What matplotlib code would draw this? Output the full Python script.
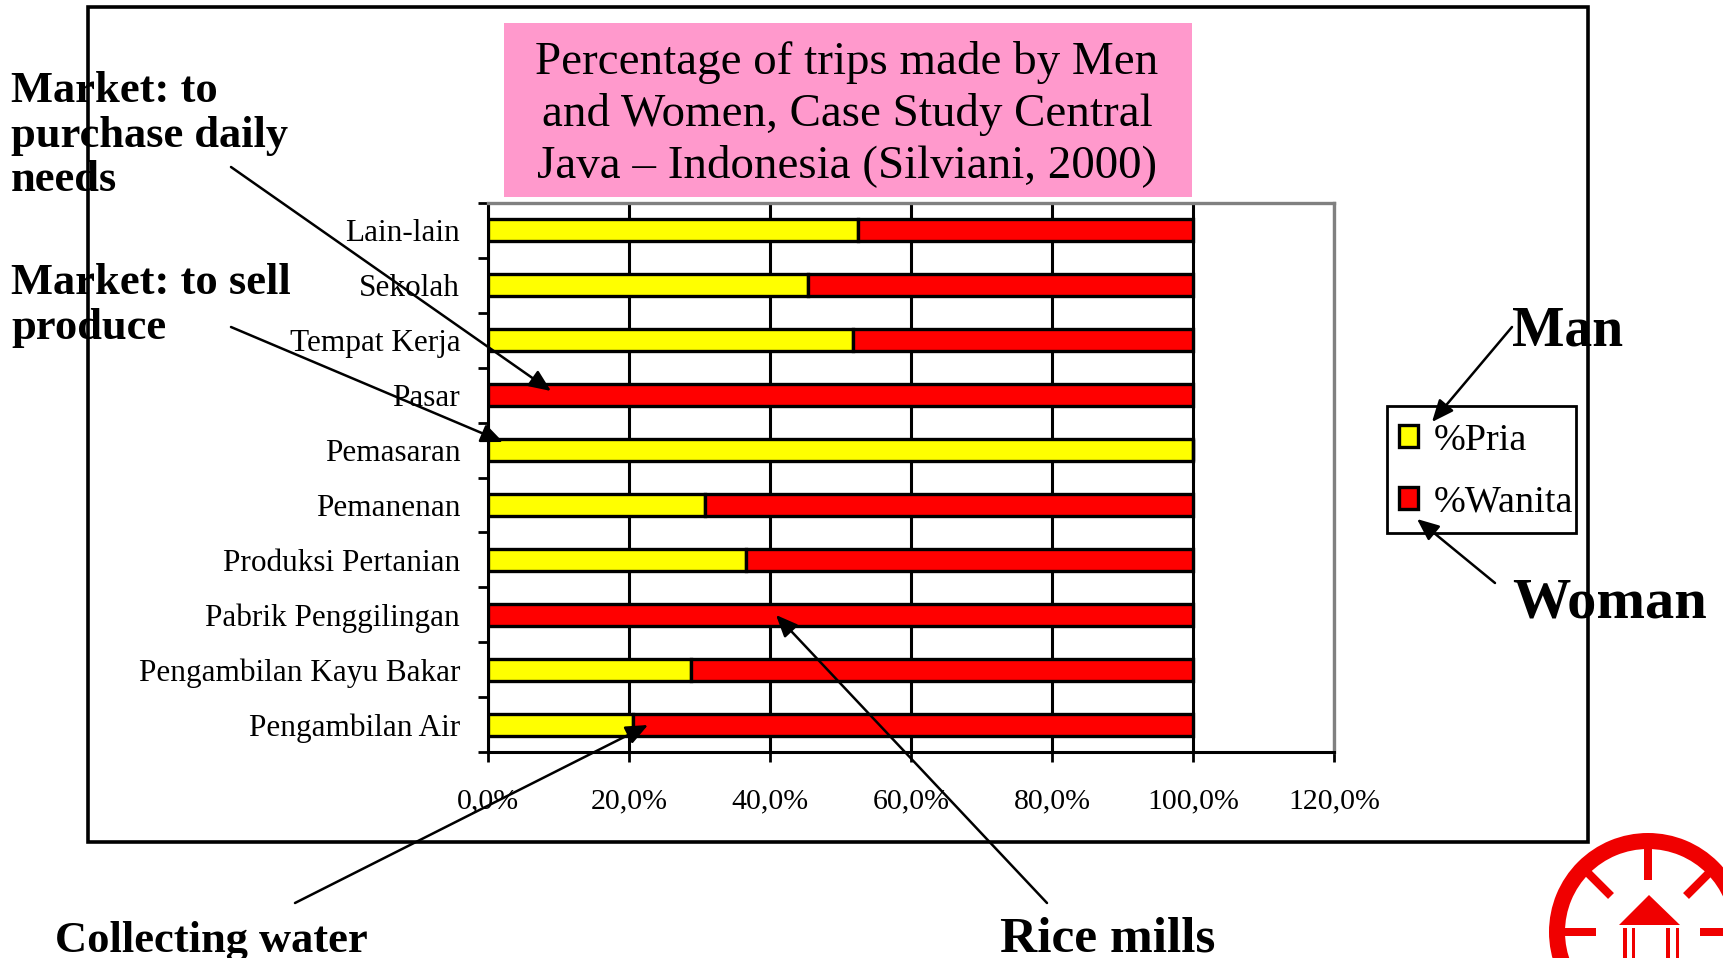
import matplotlib
matplotlib.use("Agg")
import matplotlib.pyplot as plt
import matplotlib.patches as patches
from matplotlib.ticker import FixedLocator

W, H = 1723, 958

categories = ["Pengambilan Air", "Pengambilan Kayu Bakar", "Pabrik Penggilingan",
              "Produksi Pertanian", "Pemanenan", "Pemasaran", "Pasar",
              "Tempat Kerja", "Sekolah", "Lain-lain"]
pria = [20.5, 28.8, 0.0, 36.6, 30.7, 100.0, 0.0, 51.7, 45.3, 52.5]
wanita = [79.5, 71.2, 100.0, 63.4, 69.3, 0.0, 100.0, 48.3, 54.7, 47.5]
x_ticks = [0, 20, 40, 60, 80, 100, 120]
x_labels = ["0,0%", "20,0%", "40,0%", "60,0%", "80,0%", "100,0%", "120,0%"]

plt.rcParams['font.family'] = ['Liberation Serif', 'DejaVu Serif']

fig = plt.figure(figsize=(W / 100, H / 100), dpi=100, facecolor='white')


def px_axes(x0, y0, x1, y1):
    # pixel box, measured from the top left of the image
    return fig.add_axes([x0 / W, 1 - y1 / H, (x1 - x0) / W, (y1 - y0) / H])


# --- chart ---
ax = px_axes(488, 203, 1334.5, 752)
ax.set_zorder(2)
ax.patch.set_alpha(0)
ypos = list(range(len(categories)))
b1 = ax.barh(ypos, pria, height=0.4, color='#ffff00', edgecolor='black', linewidth=2.4, zorder=3, label='%Pria')
b2 = ax.barh(ypos, wanita, left=pria, height=0.4, color='#ff0000', edgecolor='black', linewidth=2.4, zorder=3, label='%Wanita')
ax.set_xlim(0, 120)
ax.set_ylim(-0.5, 9.5)
ax.set_xticks(x_ticks)
ax.set_xticklabels(x_labels, fontsize=21.5)
ax.tick_params(axis='x', length=7, width=2, pad=19.5, color='black')
ax.xaxis.grid(True, color='black', lw=2.2)
ax.set_axisbelow(True)

# ticks fall between the categories, labels sit on the bars
ax.yaxis.set_major_locator(FixedLocator([i - 0.5 for i in range(11)]))
ax.set_yticklabels([])
ax.tick_params(axis='y', which='major', length=7, width=2, color='black')
ax.set_yticks(ypos, minor=True)
ax.set_yticklabels(categories, minor=True, fontsize=22.5)
ax.tick_params(axis='y', which='minor', length=0, pad=20)

for side in ['top', 'right']:
    ax.spines[side].set_color('#808080')
    ax.spines[side].set_linewidth(2.4)
for side in ['left', 'bottom']:
    ax.spines[side].set_color('black')
    ax.spines[side].set_linewidth(2.2)

# --- overlay in image pixels ---
ov = px_axes(0, 0, W, H)
ov.set_xlim(0, W)
ov.set_ylim(H, 0)
ov.axis('off')
ov.set_zorder(3)
ov.patch.set_alpha(0)

ov.add_patch(patches.Rectangle((88, 7), 1500, 835, fill=False, edgecolor='black', linewidth=2.6))
ov.add_patch(patches.Rectangle((504, 23), 688, 174, facecolor='#ff99cc', edgecolor='none'))

title_lines = ["Percentage of trips made by Men", "and Women, Case Study Central",
               "Java \u2013 Indonesia (Silviani, 2000)"]
for line, y in zip(title_lines, [62, 114, 166]):
    ov.text(847, y, line, ha='center', va='center', fontsize=33.8, color='black')

notes = [("Market: to", 11, 91, 32), ("purchase daily", 11, 136, 32), ("needs", 11, 180, 32),
         ("Market: to sell", 11, 283, 32), ("produce", 11, 328, 32),
         ("Collecting water", 55, 941, 32), ("Rice mills", 1000, 940, 37),
         ("Man", 1512, 331, 40), ("Woman", 1512, 604, 42)]
for txt, x, y, size in notes:
    ov.text(x, y, txt, ha='left', va='center', fontsize=size, fontweight='bold', color='black')

arrows = [((231, 167), (551, 391)), ((231, 327), (503, 442)), ((295, 903), (648, 725)),
          ((1047, 903), (776, 615)), ((1512, 327), (1432, 422)), ((1495, 583), (1417, 519))]
for start, tip in arrows:
    ov.annotate("", xy=tip, xytext=start,
                arrowprops=dict(arrowstyle='-|>,head_length=0.7,head_width=0.3', color='black', lw=1.8,
                                mutation_scale=19, shrinkA=0, shrinkB=0))

# legend frame drawn on its own so its padding can differ from the entries
ov.add_patch(patches.Rectangle((1387, 406), 189, 127, fill=False, edgecolor='black', linewidth=2, zorder=0))
leg = fig.legend(handles=[b1, b2], loc='upper left', bbox_to_anchor=(1399 / W, 1 - 423 / H),
                 bbox_transform=fig.transFigure, borderaxespad=0, borderpad=0, fontsize=27.5, frameon=False,
                 handlelength=0.5, handleheight=0.5, labelspacing=0.72, handletextpad=0.42)
leg.set_zorder(1)

# logo, runs off the corner
red = '#f00000'
cx, cy = 1648, 932
ov.add_patch(patches.Annulus((cx, cy), 99, 16, facecolor=red, edgecolor='none'))
ov.add_patch(patches.Rectangle((cx - 4, 846), 8, 34, facecolor=red, edgecolor='none'))
ov.add_patch(patches.Rectangle((1563, 928), 33, 8, facecolor=red, edgecolor='none'))
ov.add_patch(patches.Rectangle((1700, 928), 25, 8, facecolor=red, edgecolor='none'))
ov.plot([1587, 1611], [872, 896], color=red, lw=6, solid_capstyle='butt')
ov.plot([1710, 1686], [872, 896], color=red, lw=6, solid_capstyle='butt')
ov.add_patch(patches.Polygon([(1649, 895), (1619, 925), (1680, 925)], facecolor=red, edgecolor='none'))
for x0, w in [(1623, 4), (1632, 3), (1666, 4), (1676, 3)]:
    ov.add_patch(patches.Rectangle((x0, 928), w, 32, facecolor=red, edgecolor='none'))

fig.savefig("out.png", dpi=100)
